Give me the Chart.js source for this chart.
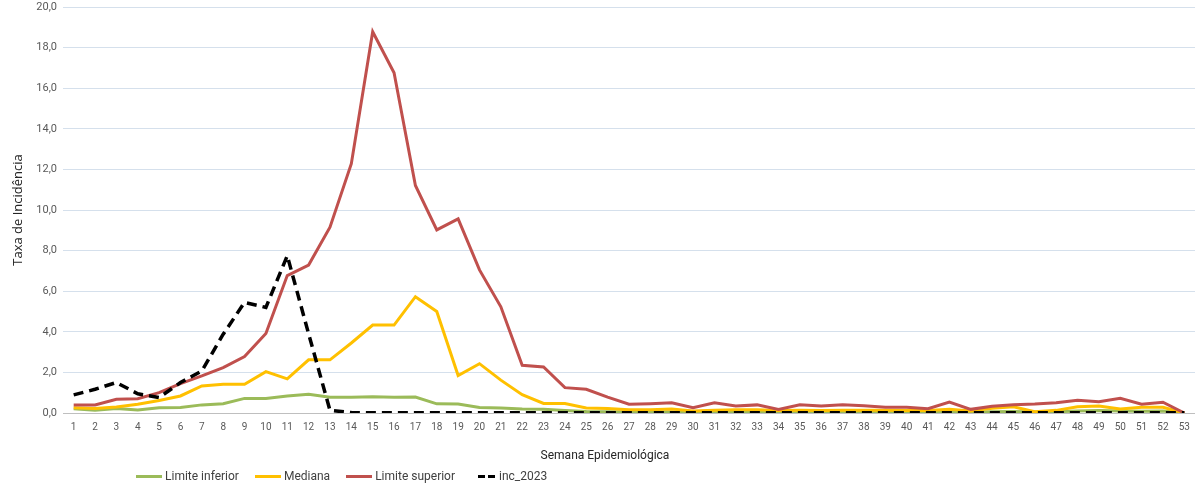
<!DOCTYPE html>
<html lang="pt">
  <head>
    <meta charset="UTF-8" />
    <title>Taxa de Incidência por Semana Epidemiológica</title>
    <script src="https://cdn.jsdelivr.net/npm/chart.js"></script>
    <style>
      body {
        margin: 0;
        background: #fff;
        font-family: Roboto, "Open Sans", sans-serif;
      }
      .wrap {
        position: relative;
        width: 1202px;
        height: 490px;
      }
      #xtitle {
        position: absolute;
        left: 605px;
        top: 448px;
        transform: translateX(-50%);
        font-size: 12px;
        color: #262626;
        white-space: nowrap;
      }
      #legend {
        position: absolute;
        left: 136px;
        top: 469px;
        display: flex;
        font-size: 12px;
        color: #404040;
      }
      #legend .item {
        display: flex;
        align-items: center;
        margin-right: 16px;
      }
      #legend .swatch {
        width: 26px;
        height: 3px;
        margin-right: 3px;
      }
      #legend .dash {
        width: 17px;
        height: 3px;
        margin-left: 7px;
        margin-right: 4px;
        background: repeating-linear-gradient(90deg, #000 0 7px, transparent 7px 10px);
      }
    </style>
  </head>
  <body>
    <div class="wrap">
      <canvas id="chart" width="1202" height="490"></canvas>
      <div id="xtitle">Semana Epidemiológica</div>
      <div id="legend"></div>
    </div>

    <script>
      const semanas = [
        "1", "2", "3", "4", "5", "6", "7", "8", "9", "10", "11", "12", "13",
        "14", "15", "16", "17", "18", "19", "20", "21", "22", "23", "24", "25",
        "26", "27", "28", "29", "30", "31", "32", "33", "34", "35", "36", "37",
        "38", "39", "40", "41", "42", "43", "44", "45", "46", "47", "48", "49",
        "50", "51", "52", "53",
      ];

      const limiteInferior = [
        0.21, 0.13, 0.22, 0.15, 0.26, 0.27, 0.40, 0.46, 0.72, 0.72, 0.84, 0.92,
        0.78, 0.78, 0.80, 0.77, 0.79, 0.45, 0.44, 0.27, 0.25, 0.20, 0.19, 0.12,
        0.07, 0.06, 0.05, 0.05, 0.05, 0.04, 0.05, 0.05, 0.05, 0.04, 0.05, 0.05,
        0.05, 0.05, 0.04, 0.04, 0.04, 0.05, 0.04, 0.06, 0.08, 0.05, 0.06, 0.10,
        0.12, 0.10, 0.09, 0.10, 0,
      ];

      const mediana = [
        0.26, 0.22, 0.30, 0.43, 0.62, 0.84, 1.33, 1.42, 1.42, 2.04, 1.68, 2.62,
        2.62, 3.45, 4.33, 4.33, 5.73, 5.00, 1.85, 2.43, 1.62, 0.90, 0.47, 0.47,
        0.25, 0.22, 0.16, 0.16, 0.20, 0.10, 0.13, 0.16, 0.16, 0.12, 0.13, 0.12,
        0.14, 0.13, 0.13, 0.12, 0.12, 0.18, 0.10, 0.23, 0.31, 0.06, 0.13, 0.31,
        0.35, 0.20, 0.28, 0.28, 0,
      ];

      const limiteSuperior = [
        0.40, 0.40, 0.68, 0.70, 1.00, 1.45, 1.83, 2.24, 2.78, 3.92, 6.77, 7.29,
        9.15, 12.28, 18.78, 16.76, 11.21, 9.02, 9.56, 7.05, 5.23, 2.35, 2.27,
        1.25, 1.17, 0.78, 0.43, 0.46, 0.50, 0.26, 0.50, 0.35, 0.40, 0.18, 0.41,
        0.35, 0.41, 0.36, 0.28, 0.28, 0.21, 0.54, 0.18, 0.33, 0.41, 0.44, 0.51,
        0.63, 0.56, 0.72, 0.43, 0.53, 0,
      ];

      const inc2023 = [
        0.89, 1.17, 1.50, 0.95, 0.76, 1.50, 2.07, 3.88, 5.45, 5.20, 7.75, 3.90,
        0.13, 0.02, 0.01, 0.01, 0.01, 0.01, 0.01, 0.01, 0.01, 0.01, 0.01, 0.01,
        0.01, 0.01, 0.01, 0.01, 0.01, 0.01, 0.01, 0.01, 0.01, 0.01, 0.01, 0.01,
        0.01, 0.01, 0.01, 0.01, 0.01, 0.01, 0.01, 0.01, 0.01, 0.01, 0.01, 0.01,
        0.01, 0.01, 0.01, 0.01, 0.01,
      ];

      const series = [
        { label: "Limite inferior", data: limiteInferior, color: "#9bbb59", order: 3 },
        { label: "Mediana", data: mediana, color: "#ffc000", order: 2 },
        { label: "Limite superior", data: limiteSuperior, color: "#c0504d", order: 1 },
        { label: "inc_2023", data: inc2023, color: "#000000", order: 0, dash: [10, 6] },
      ];

      const tickFont = { family: "Roboto, 'Open Sans', sans-serif", size: 11 };

      new Chart(document.getElementById("chart"), {
        type: "line",
        data: {
          labels: semanas,
          datasets: series.map((s) => ({
            label: s.label,
            data: s.data,
            borderColor: s.color,
            backgroundColor: s.color,
            borderWidth: s.dash ? 3.5 : 3,
            borderDash: s.dash || [],
            pointRadius: 0,
            tension: 0,
            order: s.order,
          })),
        },
        options: {
          responsive: false,
          animation: false,
          layout: { padding: { top: 7, right: 7, bottom: 0, left: 10 } },
          plugins: {
            legend: { display: false },
            tooltip: { enabled: false },
          },
          scales: {
            x: {
              offset: true,
              afterFit: (scale) => {
                scale.height = 77;
              },
              grid: { display: false, drawTicks: false },
              border: { display: false },
              ticks: {
                autoSkip: false,
                maxRotation: 0,
                padding: 8,
                color: "#595959",
                font: { ...tickFont, size: 10 },
              },
            },
            y: {
              min: 0,
              max: 20,
              afterFit: (scale) => {
                scale.width = 53;
                scale.paddingTop = 0;
                scale.paddingBottom = 0;
              },
              ticks: {
                stepSize: 2,
                padding: 6,
                color: "#595959",
                font: tickFont,
                callback: (v) => v.toFixed(1).replace(".", ","),
              },
              grid: {
                drawTicks: false,
                color: (ctx) => (ctx.tick && ctx.tick.value === 0 ? "#bfbfbf" : "#d5e0ec"),
              },
              border: { display: false },
              title: {
                display: true,
                text: "Taxa de Incidência",
                color: "#262626",
                font: { family: "'Open Sans', sans-serif", size: 13 },
                padding: { top: 0, bottom: 4 },
              },
            },
          },
        },
      });

      const legend = document.getElementById("legend");
      series.forEach((s) => {
        const item = document.createElement("div");
        item.className = "item";
        const sw = document.createElement("span");
        if (s.dash) {
          sw.className = "dash";
        } else {
          sw.className = "swatch";
          sw.style.background = s.color;
        }
        const txt = document.createElement("span");
        txt.textContent = s.label;
        item.appendChild(sw);
        item.appendChild(txt);
        legend.appendChild(item);
      });
    </script>
  </body>
</html>
